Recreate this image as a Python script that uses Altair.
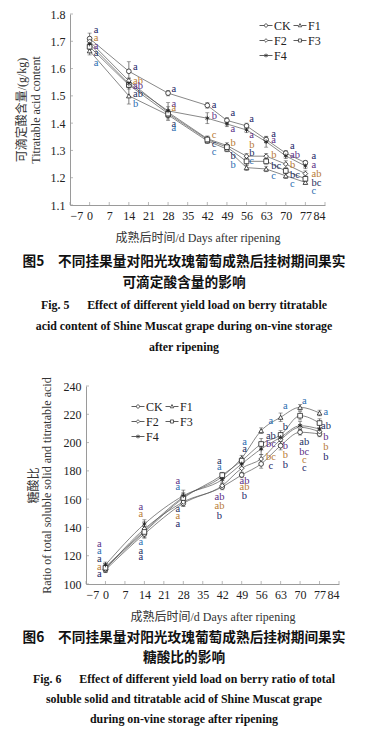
import altair as alt
import pandas as pd

SERIF = "Liberation Serif, Noto Sans CJK SC"
ZH = "Noto Sans CJK SC"

days = [0, 14, 28, 42, 49, 56, 63, 70, 77]
series = ["CK", "F1", "F2", "F3", "F4"]
x_ticks = [-7, 0, 7, 14, 21, 28, 35, 42, 49, 56, 63, 70, 77, 84]

# ---- Fig. 5: titratable acid content (g/kg)
ta_values = {
    "CK": [1.71, 1.59, 1.51, 1.465, 1.41, 1.39, 1.34, 1.29, 1.255],
    "F1": [1.665, 1.50, 1.43, 1.335, 1.305, 1.237, 1.232, 1.207, 1.183],
    "F2": [1.70, 1.555, 1.44, 1.343, 1.318, 1.279, 1.279, 1.25, 1.215],
    "F3": [1.68, 1.54, 1.435, 1.34, 1.312, 1.26, 1.26, 1.225, 1.196],
    "F4": [1.69, 1.545, 1.445, 1.418, 1.397, 1.375, 1.332, 1.28, 1.243],
}
ta_err = {
    "CK": [0.02, 0.035, 0.01, 0.01, 0.01, 0.01, 0.01, 0.01, 0.008],
    "F1": [0.015, 0.03, 0.02, 0.01, 0.01, 0.01, 0.01, 0.01, 0.008],
    "F2": [0.01, 0.01, 0.02, 0.01, 0.01, 0.01, 0.01, 0.012, 0.01],
    "F3": [0.01, 0.01, 0.01, 0.01, 0.01, 0.015, 0.01, 0.01, 0.01],
    "F4": [0.015, 0.02, 0.03, 0.02, 0.01, 0.01, 0.02, 0.01, 0.01],
}
ta_letters = [
    ["a", "a", "a", "a", "a"],
    ["a", "ab", "ab", "ab", "b"],
    ["a", "a", "a", "a", "a"],
    ["a", "b", "c", "c", "c"],
    ["a", "a", "b", "b", "b"],
    ["a", "a", "b", "b", "c"],
    ["a", "a", "b", "bc", "c"],
    ["a", "ab", "b", "bc", "c"],
    ["a", "a", "ab", "bc", "c"],
]
ta_letter_y = [
    [1.743, 1.713, 1.683, 1.656, 1.62],
    [1.606, 1.556, 1.537, 1.505, 1.469],
    [1.525, 1.469, 1.455, 1.397, 1.382],
    [1.465, 1.427, 1.358, 1.322, 1.296],
    [1.439, 1.377, 1.326, 1.279, 1.246],
    [1.415, 1.356, 1.32, 1.29, 1.261],
    [1.36, 1.338, 1.285, 1.243, 1.207],
    [1.318, 1.285, 1.246, 1.211, 1.177],
    [1.279, 1.245, 1.213, 1.18, 1.151],
]
ta_letter_dx = [1.5, 1.5, 1.2, 1.6, 1.3, 1.0, 1.8, 1.5, 2.2]

# ---- Fig. 6: ratio of total soluble solid and titratable acid
ra_values = {
    "CK": [110, 135.4, 157, 168.6, 177.1, 184.9, 197.8, 207.3, 206.1],
    "F1": [112, 137.7, 161.5, 176, 189, 208.4, 217.9, 224.9, 220.9],
    "F2": [110.5, 138.9, 158, 169.5, 181.8, 188.4, 202, 210.8, 207.7],
    "F3": [111.5, 136.8, 160.8, 177, 187.2, 199, 205.4, 219, 213.8],
    "F4": [113.5, 142.4, 162.4, 173.8, 184.9, 195.5, 203.7, 211.9, 209.6],
}
ra_err = {
    "CK": [2, 3, 2, 2, 2, 3, 3, 2, 2],
    "F1": [2, 3, 3, 2, 2, 2, 3, 2, 2],
    "F2": [2, 5, 3, 2, 3, 3, 3, 2, 2],
    "F3": [3, 4, 3, 2, 2, 4, 3, 3, 3],
    "F4": [2, 3, 4, 3, 3, 4, 3, 3, 3],
}
ra_letters = [
    ["a", "a", "a", "a", "a"],
    ["a", "a", "a", "a", "a"],
    ["a", "a", "a", "a", "a"],
    ["a", "a", "ab", "ab", "b"],
    ["a", "a", "ab", "ab", "b"],
    ["a", "ab", "bc", "bc", "c"],
    ["a", "b", "b", "b", "b"],
    ["a", "ab", "bc", "c", "c"],
    ["a", "ab", "b", "b", "b"],
]
ra_letter_y = [
    [128.3, 123.6, 117.7, 111.8, 107.1],
    [154.2, 149.5, 129.5, 123.6, 118.9],
    [173, 168.4, 153, 148.3, 142.4],
    [187.2, 182.5, 161.3, 155, 148.3],
    [200.6, 195.5, 173, 168.4, 162.4],
    [215.5, 204.4, 199, 189.6, 183.7],
    [225.7, 210.8, 197.8, 191.2, 184.2],
    [229.6, 200.2, 193.6, 187.7, 181.8],
    [221.4, 212, 203.7, 196.7, 189.6],
]
ra_letter_dx = [-2.2, -1.3, -2.0, -1.0, 1.0, 3.5, 1.7, 1.5, 2.3]

STAR = "M0,-1V1M-0.87,-0.5L0.87,0.5M-0.87,0.5L0.87,-0.5"
shape_range = ["circle", "triangle-up", "diamond", "square", STAR]
legend_paths = [
    "M-1,0H-0.25M0.25,0H1M0.25,0A0.25,0.25 0 1 1 -0.25,0A0.25,0.25 0 1 1 0.25,0Z",
    "M-1,0H-0.27M0.27,0H1M0,-0.3L0.27,0.2H-0.27Z",
    "M-1,0H-0.28M0.28,0H1M0,-0.28L0.28,0L0,0.28L-0.28,0Z",
    "M-1,0H-0.24M0.24,0H1M-0.24,-0.24H0.24V0.24H-0.24Z",
    "M-1,0H1M0,-0.3V0.3M-0.26,-0.15L0.26,0.15M-0.26,0.15L0.26,-0.15",
]
letter_colors = ["#1c2466", "#2b6cb0", "#b87a35", "#23305e", "#5a2f86"]
AXIS_GRAY = "#9a9a9a"


def long_df(values, err):
    rows = []
    for s in series:
        for d, v, e in zip(days, values[s], err[s]):
            rows.append({"series": s, "day": d, "value": v, "lo": v - e, "hi": v + e})
    return pd.DataFrame(rows)


def letters_df(values, letters, ly, ldx):
    rows = []
    for i, d in enumerate(days):
        order = sorted(series, key=lambda s: -values[s][i])
        for s, t, y in zip(order, letters[i], ly[i]):
            rows.append({"series": s, "day": d + ldx[i], "ly": y, "t": t})
    return pd.DataFrame(rows)


XLABEL = "datum.value < 0 ? '\u2212' + abs(datum.value) : datum.label"


def panel(values, err, letters, ly, ldx, ydom, yvals, yfmt, ytitle, tlh, tpad,
          w, h, lx, lyy, curve, lalign):
    df = long_df(values, err)
    ldf = letters_df(values, letters, ly, ldx)
    xs = alt.Scale(domain=[-7, 84], nice=False, zero=False)
    ys = alt.Scale(domain=ydom, nice=False, zero=False)

    def X(field="day"):
        return alt.X(f"{field}:Q", scale=xs, axis=None)

    def Y(field="value"):
        return alt.Y(f"{field}:Q", scale=ys, axis=None)

    main_x = alt.Axis(values=x_ticks, ticks=False, tickSize=0, labelExpr=XLABEL,
                      labelPadding=5, labelOverlap=False,
                      title="成熟后时间/d Days after ripening",
                      titlePadding=11, grid=False)
    main_y = alt.Axis(values=yvals, format=yfmt, ticks=False, tickSize=0,
                      labelPadding=5, labelOverlap=False, title=ytitle,
                      titlePadding=tpad, titleLineHeight=tlh, grid=False)

    base = alt.Chart(df)
    lines = base.mark_line(color="#555", strokeWidth=0.7, interpolate=curve).encode(
        x=alt.X("day:Q", scale=xs, axis=main_x),
        y=alt.Y("value:Q", scale=ys, axis=main_y),
        detail="series:N",
    )
    # inward tick marks on the two axes
    xt = alt.Chart(pd.DataFrame({"t": x_ticks, "b": ydom[0]})).mark_tick(
        orient="vertical", size=3, thickness=1, color=AXIS_GRAY, yOffset=-1.5).encode(
        x=X("t"), y=Y("b"))
    yt = alt.Chart(pd.DataFrame({"t": yvals, "b": -7})).mark_tick(
        orient="horizontal", size=3, thickness=1, color=AXIS_GRAY, xOffset=1.5).encode(
        x=X("b"), y=Y("t"))
    bars = base.mark_rule(color="#444", strokeWidth=0.7).encode(
        x=X(), y=Y("lo"), y2="hi:Q")
    cap_lo = base.mark_tick(orient="horizontal", color="#444", thickness=0.7, size=4).encode(
        x=X(), y=Y("lo"))
    cap_hi = base.mark_tick(orient="horizontal", color="#444", thickness=0.7, size=4).encode(
        x=X(), y=Y("hi"))
    pts = base.mark_point(filled=True, fill="white", stroke="#222", strokeWidth=0.8,
                          size=22, opacity=1).encode(
        x=X(), y=Y(),
        shape=alt.Shape("series:N", scale=alt.Scale(domain=series, range=shape_range),
                        legend=None),
    )
    txt = alt.Chart(ldf).mark_text(font=SERIF, fontSize=10.5, align=lalign,
                                   baseline="middle").encode(
        x=X(), y=Y("ly"), text="t:N",
        color=alt.Color("series:N", scale=alt.Scale(domain=series, range=letter_colors),
                        legend=None),
    )
    leg = base.transform_filter("false").mark_point(
        filled=False, color="#333", strokeWidth=0.8, opacity=1).encode(
        x=X(), y=Y(),
        shape=alt.Shape("series:N", scale=alt.Scale(domain=series, range=legend_paths),
                        legend=alt.Legend(orient="none", legendX=lx, legendY=lyy,
                                          columns=2, direction="horizontal",
                                          title=None, symbolSize=169,
                                          symbolStrokeWidth=0.8,
                                          symbolStrokeColor="#333",
                                          symbolFillColor="white",
                                          labelFont=SERIF, labelFontSize=12,
                                          labelColor="#222", labelOffset=1,
                                          columnPadding=0, rowPadding=2)),
    )
    return (alt.layer(lines, xt, yt, bars, cap_lo, cap_hi, pts, txt, leg)
            .resolve_scale(shape="independent")
            .resolve_axis(x="independent", y="independent")
            .properties(width=w, height=h))


def caption(zh, en, lh, w, top_extra, bottom_extra):
    lines = zh + en
    rows = [{"t": t, "r": i + 0.5 + top_extra / lh, "k": "zh" if i < len(zh) else "en"}
            for i, t in enumerate(lines)]
    H = len(lines) * lh + top_extra + bottom_extra
    ys = alt.Scale(domain=[0, H / lh], reverse=True, nice=False, zero=False)
    base = alt.Chart(pd.DataFrame(rows))
    zh_l = base.transform_filter("datum.k == 'zh'").mark_text(
        font=ZH, fontSize=13.7, fontWeight="bold", color="#111").encode(
        x=alt.value(w / 2), y=alt.Y("r:Q", scale=ys, axis=None), text="t:N")
    en_l = base.transform_filter("datum.k == 'en'").mark_text(
        font="Liberation Serif", fontSize=11.9, fontWeight="bold", color="#111").encode(
        x=alt.value(w / 2), y=alt.Y("r:Q", scale=ys, axis=None), text="t:N")
    return alt.layer(zh_l, en_l).properties(width=w, height=H)


c1 = panel(ta_values, ta_err, ta_letters, ta_letter_y, ta_letter_dx,
           [1.1, 1.8], [1.1, 1.2, 1.3, 1.4, 1.5, 1.6, 1.7, 1.8], ".1f",
           ["可滴定酸含量/(g/kg)", "Titratable acid content"], 14, 8,
           255, 191, 189, 4.5, "linear", "left")
c2 = panel(ra_values, ra_err, ra_letters, ra_letter_y, ra_letter_dx,
           [100, 240], [100, 120, 140, 160, 180, 200, 220, 240], "d",
           ["糖酸比", "Ratio of total soluble solid and titratable acid"], 13, 10,
           253, 198, 45, 13.5, "monotone", "center")

# the concat aligns the plot origins; chart 2 sits 16 px further right
spacer = alt.Chart(pd.DataFrame({"v": [0]})).mark_text(text="").encode(
    x=alt.value(0), y=alt.value(0)).properties(width=16, height=10)
row2 = alt.HConcatChart(hconcat=[spacer, c2], spacing=0, bounds="flush")

cap1 = caption(["图5\u3000不同挂果量对阳光玫瑰葡萄成熟后挂树期间果实", "可滴定酸含量的影响"],
               ["Fig. 5\u2003\u2002Effect of different yield load on berry titratable",
                "acid content of Shine Muscat grape during on-vine storage",
                "after ripening"], 21.4, 228, 4.0, 14.0)
cap2 = caption(["图6\u3000不同挂果量对阳光玫瑰葡萄成熟后挂树期间果实", "糖酸比的影响"],
               ["Fig. 6\u2003\u2002Effect of different yield load on berry ratio of total",
                "soluble solid and titratable acid of Shine Muscat grape",
                "during on-vine storage after ripening"], 20.4, 228, 1.5, -10)

chart = alt.ConcatChart(
    concat=[c1, cap1, row2, cap2],
    columns=1, align="none", spacing=4,
).properties(
    padding={"left": 7, "top": 0, "right": 0, "bottom": 0}
).configure_view(stroke=None).configure_axis(
    labelFont=SERIF, labelFontSize=12, labelColor="#222",
    titleFont=SERIF, titleFontSize=12, titleFontWeight="normal", titleColor="#333",
    domainColor=AXIS_GRAY, tickColor=AXIS_GRAY, domainWidth=1,
)

chart.save("out.html", embed_options={"renderer": "svg", "actions": False})
